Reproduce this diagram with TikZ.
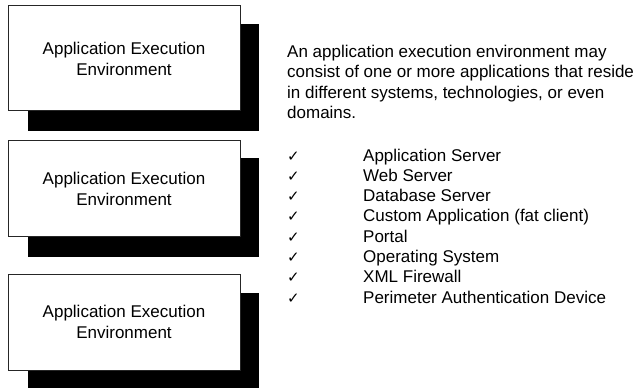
\documentclass[tikz,border=0pt]{standalone}
\usepackage{fontspec}
\setmainfont{Liberation Sans}
\newfontfamily\djv{DejaVu Sans}
\begin{document}
\begin{tikzpicture}[x=1pt,y=-1pt,
  envbox/.style={draw=black!85,line width=0.8pt,fill=white},
  shadowbox/.style={fill=black},
  boxtext/.style={align=center,inner sep=0pt,font=\fontsize{17}{20.5}\selectfont},
  linetext/.style={anchor=base west,inner sep=0pt,font=\fontsize{17}{20.3}\selectfont},
  chk/.style={anchor=base west,inner sep=0pt,font=\djv\fontsize{15}{16}\selectfont}]
\useasboundingbox (0,0) rectangle (639,388);
% box 1
\fill[shadowbox] (28,24) rectangle (259,130.7);
\draw[envbox] (8,5) rectangle (240,110.7);
\node[boxtext] (b1) at (124,59) {Application Execution\\Environment};
% box 2
\fill[shadowbox] (28,158.3) rectangle (259,256.7);
\draw[envbox] (8,140) rectangle (240,236);
\node[boxtext] (b2) at (124,189) {Application Execution\\Environment};
% box 3
\fill[shadowbox] (28,292.7) rectangle (259,388);
\draw[envbox] (8,274) rectangle (240,370);
\node[boxtext] (b3) at (124,322) {Application Execution\\Environment};
% paragraph
\node[linetext] (p1) at (287,57.5) {An application execution environment may};
\node[linetext] (p2) at (287,77.8) {consist of one or more applications that reside};
\node[linetext] (p3) at (287,98.1) {in different systems, technologies, or even};
\node[linetext] (p4) at (287,118.4) {domains.};
% list
\foreach \t [count=\i from 0] in {Application Server,Web Server,Database Server,Custom Application (fat client),Portal,Operating System,XML Firewall,Perimeter Authentication Device}{
  \node[chk] (c\i) at (287,161+20.3*\i) {✓};
  \node[linetext] (l\i) at (363,161+20.3*\i) {\t};
}
\end{tikzpicture}
\end{document}
